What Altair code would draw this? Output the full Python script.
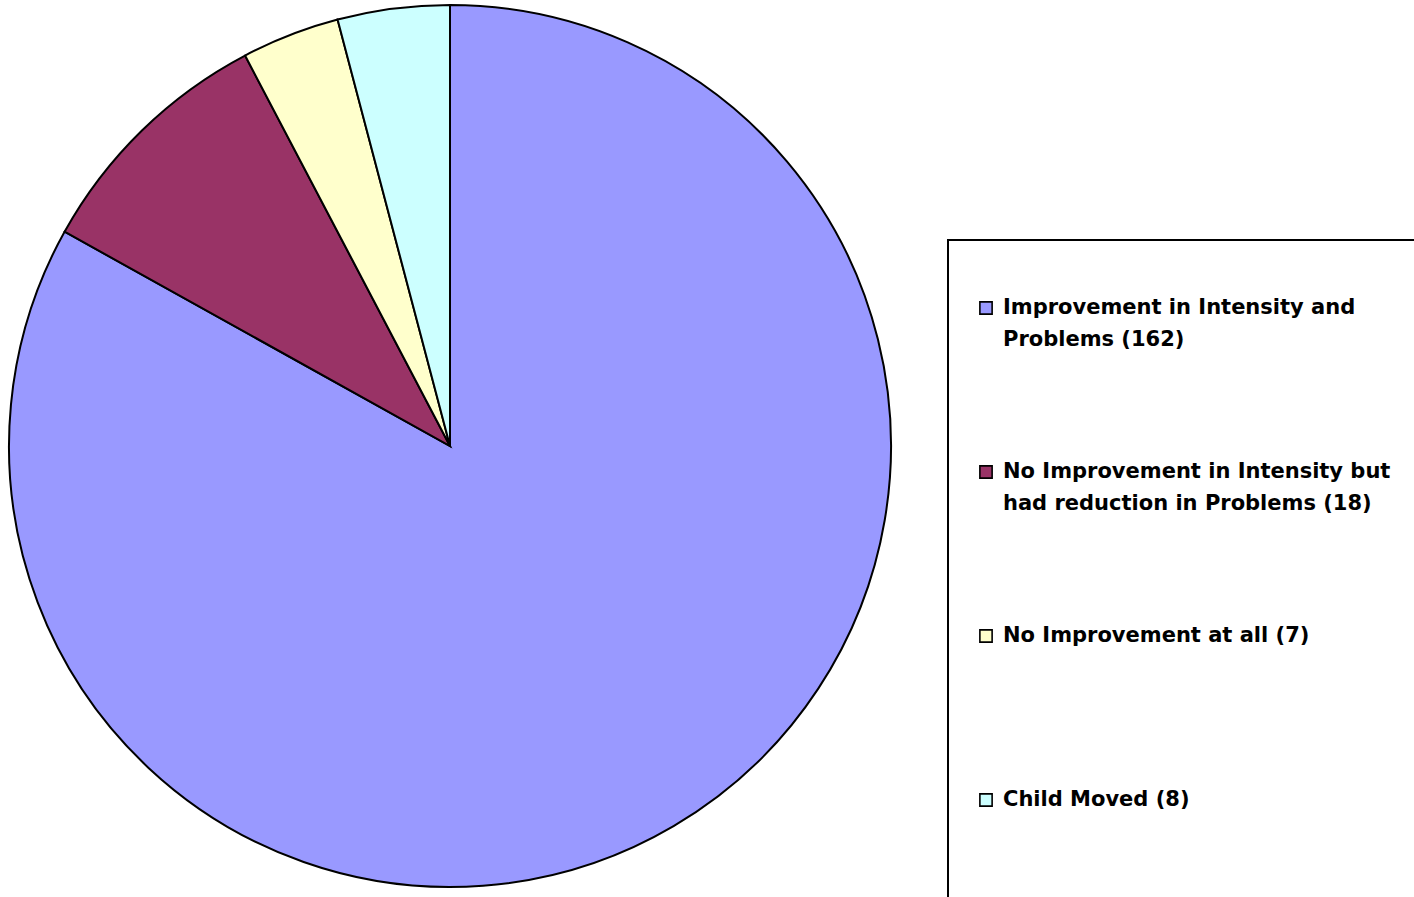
import altair as alt
import pandas as pd

# Outcome groups and number of children in each
categories = [
    "Improvement in Intensity and Problems",
    "No Improvement in Intensity but had reduction in Problems",
    "No Improvement at all",
    "Child Moved",
]
counts = [162, 18, 7, 8]
colors = ["#9999FF", "#993366", "#FFFFCC", "#CCFFFF"]

# Legend text, split over two lines where the label wraps
label_line1 = [
    "\u2005Improvement in Intensity and",
    "No Improvement in Intensity but",
    f"No Improvement at all ({counts[2]})",
    f"Child Moved ({counts[3]})",
]
label_line2 = [
    f"Problems ({counts[0]})",
    f"had reduction in Problems ({counts[1]})",
    "",
    "",
]

df = pd.DataFrame({
    "idx": list(range(len(categories))),
    "category": categories,
    "count": counts,
    "line1": label_line1,
    "line2": label_line2,
})

color_enc = alt.Color(
    "category:N",
    scale=alt.Scale(domain=categories, range=colors),
    legend=None,
)
legend_y = alt.Y("idx:Q", scale=alt.Scale(domain=[0, 3], range=[308, 800]), axis=None)

FONT = "DejaVu Sans"

pie = alt.Chart(df).mark_arc(
    outerRadius=441, stroke="black", strokeWidth=2
).encode(
    theta=alt.Theta("count:Q", stack=True),
    color=color_enc,
    order=alt.Order("idx:Q"),
    x=alt.value(450),
    y=alt.value(446),
)

legend_box = alt.Chart(pd.DataFrame({"a": [0]})).mark_rect(
    fill="white", stroke="black", strokeWidth=2
).encode(
    x=alt.value(948), x2=alt.value(1440),
    y=alt.value(240), y2=alt.value(920),
)

swatches = alt.Chart(df).mark_square(
    size=150, filled=True, stroke="black", strokeWidth=1.6, opacity=1
).encode(
    x=alt.value(986),
    y=legend_y,
    color=color_enc,
)

text1 = alt.Chart(df).mark_text(
    align="left", baseline="middle", font=FONT, fontSize=21, fontWeight="bold", color="black"
).encode(x=alt.value(1003), y=legend_y, text="line1:N")

text2 = alt.Chart(df).mark_text(
    align="left", baseline="middle", font=FONT, fontSize=21, fontWeight="bold", color="black", dy=32
).encode(x=alt.value(1003), y=legend_y, text="line2:N")

chart = alt.layer(pie, legend_box, swatches, text1, text2).properties(
    width=1414,
    height=897,
    padding=0,
    autosize=alt.AutoSizeParams(type="none"),
    background="white",
).configure_view(stroke=None)

chart.save("out.html", embed_options={"renderer": "svg", "actions": False})
